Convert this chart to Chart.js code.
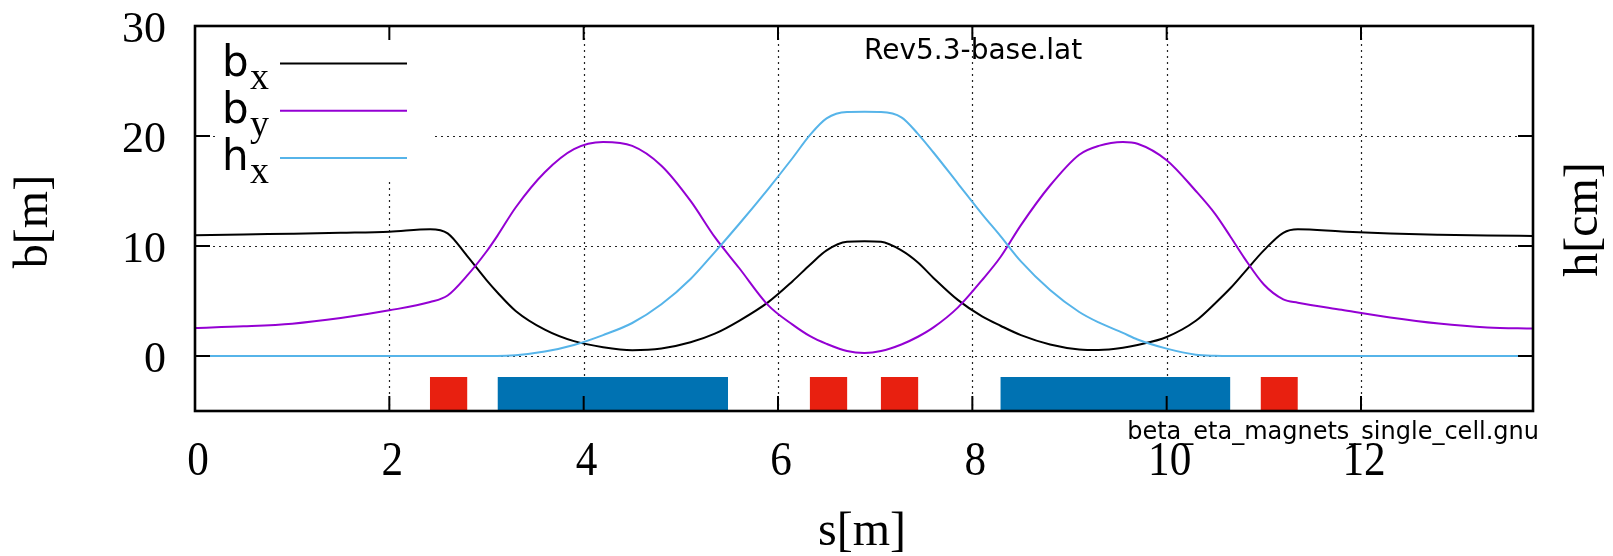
<!DOCTYPE html>
<html>
<head>
	<title>beta / eta single cell</title>
	<script type="text/javascript" src="https://cdn.jsdelivr.net/npm/chart.js@4.4.1/dist/chart.umd.min.js"></script>
	<style>
		body { margin: 0; background: #fff; }
		#wrap { width: 1613px; height: 556px; position: relative; }
	</style>
</head>
<body>
	<div id="wrap"><canvas id="canvas"></canvas></div>
	<script type="text/javascript">
		var sPos  = [0, 0.5, 1.0, 1.5, 2.0, 2.42, 2.6, 2.8, 3.0, 3.11,
		             3.3, 3.6, 3.9, 4.2, 4.5, 4.8, 5.1, 5.35, 5.6, 5.9,
		             6.15, 6.33, 6.5, 6.71, 6.89, 7.06, 7.27, 7.44, 7.6, 7.85,
		             8.1, 8.29, 8.5, 8.8, 9.1, 9.3, 9.55, 9.7, 10.0, 10.3,
		             10.5, 10.66, 10.8, 11.0, 11.2, 11.35, 11.8, 12.3, 12.8, 13.3, 13.77];
		var betaX = [10.97, 11.05, 11.12, 11.2, 11.3, 11.52, 11.15, 9.1, 6.9, 5.8,
		             4.1, 2.4, 1.35, 0.8, 0.53, 0.68, 1.25, 2.03, 3.2, 4.9,
		             6.8, 8.3, 9.6, 10.38, 10.43, 10.38, 9.6, 8.5, 7.1, 5.1,
		             3.6, 2.75, 1.9, 1.05, 0.6, 0.55, 0.75, 1.0, 1.73, 3.2,
		             4.8, 6.2, 7.6, 9.6, 11.2, 11.52, 11.32, 11.13, 11.02, 10.95, 10.91];
		var betaY = [2.55, 2.7, 2.94, 3.45, 4.15, 4.91, 5.5, 7.3, 9.5, 10.9,
		             13.5, 16.7, 18.8, 19.45, 19.1, 17.3, 14.1, 10.8, 8.0, 4.6,
		             2.85, 1.8, 1.1, 0.45, 0.27, 0.45, 1.05, 1.75, 2.6, 4.4,
		             6.9, 9.0, 11.9, 15.5, 18.3, 19.1, 19.45, 19.3, 17.8, 15.0,
		             12.9, 10.8, 8.9, 6.5, 5.15, 4.85, 4.2, 3.5, 2.95, 2.6, 2.49];
		var etaX  = [0, 0, 0, 0, 0, 0, 0, 0, 0, 0,
		             0.07, 0.4, 1.0, 1.9, 3.0, 4.7, 7.0, 9.45, 12.0, 15.2,
		             18.0, 20.1, 21.6, 22.18, 22.2, 22.18, 21.7, 20.2, 18.5, 15.7,
		             12.9, 10.9, 8.6, 6.0, 4.0, 3.05, 2.1, 1.5, 0.67, 0.12,
		             0.02, 0, 0, 0, 0, 0, 0, 0, 0, 0, 0];

		// magnets: start / end [m], kind
		var magnetStart = [2.417, 3.113, 6.326, 7.057, 8.288, 10.966];
		var magnetEnd   = [2.804, 5.486, 6.714, 7.445, 10.656, 11.350];
		var magnetKind  = ["quad", "dipole", "quad", "quad", "dipole", "quad"];
		var magnetTop   = -1.9;

		var xTicks = [0, 2, 4, 6, 8, 10, 12];
		var yTicks = [0, 10, 20, 30];
		var legendMain = ["b", "b", "h"];
		var legendSub  = ["x", "y", "x"];
		var lineColors = ["#000000", "#9400d3", "#56b4e9"];
		var kindColors = { quad: "#e82010", dipole: "#0072b2" };

		function pts(ys) {
			return sPos.map(function(s, i){ return { x: s, y: ys[i] }; });
		}

		var datasets = [
			{ data: pts(betaX), borderColor: lineColors[0], order: 2 },
			{ data: pts(betaY), borderColor: lineColors[1], order: 1 },
			{ data: pts(etaX),  borderColor: lineColors[2], order: 0 }
		].map(function(d){
			d.borderWidth = 2;
			d.pointRadius = 0;
			d.fill = false;
			d.cubicInterpolationMode = "monotone";
			return d;
		});

		for (var i = 0; i < magnetStart.length; i++) {
			datasets.push({
				data: [{ x: magnetStart[i], y: magnetTop }, { x: magnetEnd[i], y: magnetTop }],
				borderWidth: 0,
				pointRadius: 0,
				backgroundColor: kindColors[magnetKind[i]],
				fill: "start",
				tension: 0,
				order: 3
			});
		}

		function line(ctx, x1, y1, x2, y2) {
			ctx.beginPath(); ctx.moveTo(x1, y1); ctx.lineTo(x2, y2); ctx.stroke();
		}

		var gnuplotLook = {
			id: "gnuplotLook",
			beforeDatasetsDraw: function(chart) {
				var ctx = chart.ctx, a = chart.chartArea, x = chart.scales.x, y = chart.scales.y;
				ctx.save();
				// dotted grid
				ctx.strokeStyle = "#222";
				ctx.lineWidth = 1.2;
				ctx.setLineDash([2, 4]);
				xTicks.forEach(function(v){
					if (v === 0) return;
					var px = Math.round(x.getPixelForValue(v)) + 0.5;
					line(ctx, px, a.top, px, a.bottom);
				});
				yTicks.forEach(function(v){
					if (v === 30) return;
					var py = Math.round(y.getPixelForValue(v)) + 0.5;
					line(ctx, a.left, py, a.right, py);
				});
				ctx.setLineDash([]);
				// opaque key box
				ctx.fillStyle = "#fff";
				ctx.fillRect(a.left + 23, a.top + 5, 217, 151);
				ctx.restore();
			},
			afterDatasetsDraw: function(chart) {
				var ctx = chart.ctx, a = chart.chartArea, x = chart.scales.x, y = chart.scales.y;
				ctx.save();
				ctx.fillStyle = "#000";
				ctx.strokeStyle = "#000";

				// inward ticks on all sides
				ctx.lineWidth = 2;
				xTicks.forEach(function(v){
					var px = x.getPixelForValue(v);
					line(ctx, px, a.bottom, px, a.bottom - 15);
					line(ctx, px, a.top, px, a.top + 14);
				});
				yTicks.forEach(function(v){
					var py = y.getPixelForValue(v);
					line(ctx, a.left, py, a.left + 15, py);
					line(ctx, a.right, py, a.right - 15, py);
				});

				// frame
				ctx.lineWidth = 2.6;
				ctx.strokeRect(a.left, a.top, a.right - a.left, a.bottom - a.top);

				// tick labels
				ctx.textBaseline = "alphabetic";
				ctx.font = '48px "Liberation Serif"';
				ctx.textAlign = "center";
				xTicks.forEach(function(v){
					ctx.save();
					ctx.translate(x.getPixelForValue(v) + 3, a.bottom + 64);
					ctx.scale(0.9, 1);
					ctx.fillText(String(v), 0, 0);
					ctx.restore();
				});
				ctx.font = '44px "Liberation Serif"';
				ctx.textAlign = "right";
				yTicks.forEach(function(v){
					ctx.fillText(String(v), a.left - 29, y.getPixelForValue(v) + 16);
				});

				// axis titles
				ctx.textAlign = "center";
				ctx.textBaseline = "middle";
				ctx.font = '48px "Liberation Serif"';
				ctx.fillText("s[m]", (a.left + a.right) / 2 - 2, a.bottom + 121);
				ctx.save();
				ctx.translate(a.left - 161, (a.top + a.bottom) / 2 + 3);
				ctx.rotate(-Math.PI / 2);
				ctx.fillText("b[m]", 0, 0);
				ctx.restore();
				ctx.save();
				ctx.translate(a.right + 51, (a.top + a.bottom) / 2 + 1);
				ctx.rotate(-Math.PI / 2);
				ctx.fillText("h[cm]", 0, 0);
				ctx.restore();

				// file labels
				ctx.textBaseline = "alphabetic";
				ctx.font = '28px "DejaVu Sans"';
				ctx.textAlign = "left";
				ctx.fillText("Rev5.3-base.lat", (a.left + a.right) / 2, a.top + 33);
				ctx.font = '24px "DejaVu Sans"';
				ctx.textAlign = "right";
				ctx.fillText("beta_eta_magnets_single_cell.gnu", a.right + 6, a.bottom + 28);

				// key
				ctx.textAlign = "left";
				for (var k = 0; k < legendMain.length; k++) {
					var base = a.top + 49.5 + k * 47.3;
					ctx.font = '42px "DejaVu Sans"';
					ctx.fillText(legendMain[k], a.left + 27, base);
					ctx.font = '38px "Liberation Serif"';
					ctx.fillText(legendSub[k], a.left + 55, base + 13);
					ctx.strokeStyle = lineColors[k];
					ctx.lineWidth = 2;
					var ly = a.top + 37.5 + k * 47.3;
					line(ctx, a.left + 85, ly, a.left + 212, ly);
				}
				ctx.restore();
			}
		};

		var ctx = document.getElementById("canvas").getContext("2d");
		new Chart(ctx, {
			type: "line",
			data: { datasets: datasets },
			options: {
				responsive: true,
				maintainAspectRatio: false,
				animation: false,
				layout: { padding: { left: 195, top: 26, right: 80, bottom: 145 } },
				plugins: { legend: { display: false }, tooltip: { enabled: false } },
				scales: {
					x: { type: "linear", min: 0, max: 13.77, display: false },
					y: { type: "linear", min: -5, max: 30, display: false }
				}
			},
			plugins: [gnuplotLook]
		});
	</script>
</body>
</html>
